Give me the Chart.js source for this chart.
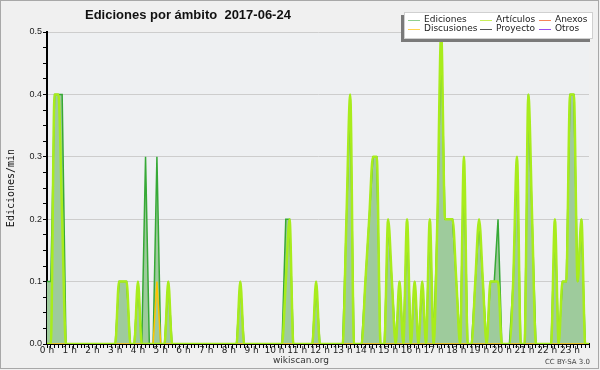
<!DOCTYPE html>
<html lang="es">
<head>
<meta charset="UTF-8">
<title>Ediciones por ámbito 2017-06-24</title>
<script src="https://cdn.jsdelivr.net/npm/chart.js"></script>
<style>
  html, body { margin: 0; padding: 0; background: #f0f0f0; }
</style>
</head>
<body>
<canvas id="grafico" width="600" height="370"></canvas>
<script>
// ediciones por minuto, un valor cada 10 minutos (una fila por hora)
const ediciones = [
  0.1, 0.1, 0.4, 0.4, 0.4, 0,
  0, 0, 0, 0, 0, 0,
  0, 0, 0, 0, 0, 0,
  0, 0.1, 0.1, 0.1, 0, 0,
  0.1, 0, 0.3, 0, 0, 0.3,
  0, 0, 0.1, 0, 0, 0,
  0, 0, 0, 0, 0, 0,
  0, 0, 0, 0, 0, 0,
  0, 0, 0, 0.1, 0, 0,
  0, 0, 0, 0, 0, 0,
  0, 0, 0, 0.2, 0.2, 0,
  0, 0, 0, 0, 0, 0.1,
  0, 0, 0, 0, 0, 0,
  0, 0.2, 0.4, 0, 0, 0,
  0.1, 0.2, 0.3, 0.3, 0, 0,
  0.2, 0.1, 0, 0.1, 0, 0.2,
  0, 0.1, 0, 0.1, 0, 0.2,
  0, 0.2, 0.5, 0.2, 0.2, 0.2,
  0.1, 0, 0.3, 0, 0, 0.1,
  0.2, 0.1, 0, 0.1, 0.1, 0.2,
  0, 0, 0, 0.1, 0.3, 0,
  0, 0.4, 0.2, 0, 0, 0,
  0, 0, 0.2, 0, 0.1, 0.1,
  0.4, 0.4, 0.1, 0.2, 0, 0
];
const articulos = [
  0, 0, 0.4, 0.4, 0.2, 0,
  0, 0, 0, 0, 0, 0,
  0, 0, 0, 0, 0, 0,
  0, 0.1, 0.1, 0.1, 0, 0,
  0.1, 0, 0, 0, 0, 0,
  0, 0, 0.1, 0, 0, 0,
  0, 0, 0, 0, 0, 0,
  0, 0, 0, 0, 0, 0,
  0, 0, 0, 0.1, 0, 0,
  0, 0, 0, 0, 0, 0,
  0, 0, 0, 0.1, 0.2, 0,
  0, 0, 0, 0, 0, 0.1,
  0, 0, 0, 0, 0, 0,
  0, 0.2, 0.4, 0, 0, 0,
  0.1, 0.2, 0.3, 0.3, 0, 0,
  0.2, 0.1, 0, 0.1, 0, 0.2,
  0, 0.1, 0, 0.1, 0, 0.2,
  0, 0.2, 0.5, 0.2, 0.2, 0.2,
  0.1, 0, 0.3, 0, 0, 0.1,
  0.2, 0.1, 0, 0.1, 0.1, 0.1,
  0, 0, 0, 0.1, 0.3, 0,
  0, 0.4, 0.2, 0, 0, 0,
  0, 0, 0.2, 0, 0.1, 0.1,
  0.4, 0.4, 0.1, 0.2, 0, 0
];
const discusiones = [
  0, 0, 0, 0, 0, 0,
  0, 0, 0, 0, 0, 0,
  0, 0, 0, 0, 0, 0,
  0, 0, 0, 0, 0, 0,
  0, 0, 0, 0, 0, 0.1,
  0, 0, 0, 0, 0, 0,
  0, 0, 0, 0, 0, 0,
  0, 0, 0, 0, 0, 0,
  0, 0, 0, 0, 0, 0,
  0, 0, 0, 0, 0, 0,
  0, 0, 0, 0, 0, 0,
  0, 0, 0, 0, 0, 0,
  0, 0, 0, 0, 0, 0,
  0, 0, 0, 0, 0, 0,
  0, 0, 0, 0, 0, 0,
  0, 0, 0, 0, 0, 0,
  0, 0, 0, 0, 0, 0,
  0, 0, 0, 0, 0, 0,
  0, 0, 0, 0, 0, 0,
  0, 0, 0, 0, 0, 0,
  0, 0, 0, 0, 0, 0,
  0, 0, 0, 0, 0, 0,
  0, 0, 0, 0, 0, 0,
  0, 0, 0, 0, 0, 0
];
// sin ediciones visibles
const proyecto = [];
const anexos = [];
const otros = [];

const horas = ['0 h', '1 h', '2 h', '3 h', '4 h', '5 h', '6 h', '7 h', '8 h', '9 h', '10 h', '11 h',
  '12 h', '13 h', '14 h', '15 h', '16 h', '17 h', '18 h', '19 h', '20 h', '21 h', '22 h', '23 h'];
const valoresY = [0, 0.1, 0.2, 0.3, 0.4, 0.5];

// etiquetas de cada intervalo de 10 min
const intervalos = ediciones.map((_, i) => Math.floor(i / 6) + ':' + (i % 6) + '0');

const esMayor = v => Math.abs(v * 10 - Math.round(v * 10)) < 1e-6;

// leyenda en 3 columnas x 2 filas, como en la imagen
const leyenda = [
  { texto: 'Ediciones', color: '#8fcf8f', col: 0, fila: 0 },
  { texto: 'Discusiones', color: '#ffd34d', col: 0, fila: 1 },
  { texto: 'Artículos', color: '#c9ef5a', col: 1, fila: 0 },
  { texto: 'Proyecto', color: '#555555', col: 1, fila: 1 },
  { texto: 'Anexos', color: '#f5855a', col: 2, fila: 0 },
  { texto: 'Otros', color: '#9a4ef0', col: 2, fila: 1 }
];

const decorado = {
  id: 'decorado',
  beforeDraw(chart) {
    const { ctx, chartArea: a } = chart;
    ctx.save();
    ctx.fillStyle = '#f0f0f0';
    ctx.fillRect(0, 0, chart.width, chart.height);
    ctx.fillStyle = '#eef0f2';
    ctx.fillRect(a.left, a.top, a.right - a.left, a.bottom - a.top);
    ctx.restore();
  },
  afterDraw(chart) {
    const ctx = chart.ctx;
    ctx.save();
    // marco
    ctx.strokeStyle = '#a8a8a8';
    ctx.lineWidth = 1;
    ctx.strokeRect(0.5, 0.5, 598, 368);

    // título
    ctx.fillStyle = '#111';
    ctx.font = 'bold 13px "Liberation Sans"';
    ctx.textAlign = 'left';
    ctx.textBaseline = 'middle';
    ctx.fillText('Ediciones por ámbito  2017-06-24', 85, 15);

    // título eje y
    ctx.save();
    ctx.translate(11, 188);
    ctx.rotate(-Math.PI / 2);
    ctx.textAlign = 'center';
    ctx.font = '10px "DejaVu Sans Mono"';
    ctx.fillStyle = '#111';
    ctx.fillText('Ediciones/min', 0, 0);
    ctx.restore();

    // pie
    ctx.textAlign = 'center';
    ctx.font = '9px "DejaVu Sans"';
    ctx.fillStyle = '#333';
    ctx.fillText('wikiscan.org', 301, 361);
    ctx.textAlign = 'right';
    ctx.font = '7px "DejaVu Sans"';
    ctx.fillStyle = '#444';
    ctx.fillText('CC BY-SA 3.0', 590, 362);

    // leyenda
    ctx.fillStyle = '#7a7a7a';
    ctx.fillRect(401, 15, 189, 27);
    ctx.fillStyle = '#ffffff';
    ctx.fillRect(404, 12, 189, 27);
    ctx.strokeStyle = '#d0d0d0';
    ctx.strokeRect(404.5, 12.5, 188, 26);
    const colX = [408, 480, 539];
    const filaY = [19.5, 29];
    ctx.font = '9px "DejaVu Sans"';
    ctx.textAlign = 'left';
    ctx.textBaseline = 'middle';
    leyenda.forEach(l => {
      const x = colX[l.col], y = filaY[l.fila];
      ctx.strokeStyle = l.color;
      ctx.lineWidth = 1;
      ctx.beginPath();
      ctx.moveTo(x, Math.round(y) + 0.5);
      ctx.lineTo(x + 12, Math.round(y) + 0.5);
      ctx.stroke();
      ctx.fillStyle = '#222';
      ctx.fillText(l.texto, x + 16, y);
    });
    ctx.restore();
  }
};

new Chart(document.getElementById('grafico'), {
  type: 'line',
  data: {
    labels: intervalos,
    datasets: [
      { label: 'Artículos', data: articulos, borderColor: '#a8ec1c', borderWidth: 2.5,
        backgroundColor: '#9ecb9c', fill: 'origin', cubicInterpolationMode: 'monotone', order: 0 },
      { label: 'Discusiones', data: discusiones, borderColor: '#ffc400', borderWidth: 1.5, fill: false, order: 1 },
      { label: 'Ediciones', data: ediciones, borderColor: '#36a936', borderWidth: 1.5,
        backgroundColor: '#9ecb9c', fill: 'origin', order: 2 },
      { label: 'Proyecto', data: proyecto, borderColor: '#555555', fill: false, order: 3 },
      { label: 'Anexos', data: anexos, borderColor: '#f5855a', fill: false, order: 4 },
      { label: 'Otros', data: otros, borderColor: '#9a4ef0', fill: false, order: 5 }
    ]
  },
  options: {
    responsive: false,
    animation: false,
    layout: { padding: { left: 0, right: 11, top: 32, bottom: 0 } },
    elements: { point: { radius: 0 }, line: { tension: 0 } },
    plugins: {
      legend: { display: false },
      tooltip: { enabled: false },
      filler: { drawTime: 'beforeDatasetsDraw' }
    },
    scales: {
      x: {
        type: 'category',
        offset: false,
        z: 1,
        grid: { drawOnChartArea: false, drawTicks: true, tickLength: 4, tickColor: '#000', tickWidth: 1 },
        border: { display: true, color: '#000', width: 2 },
        ticks: {
          autoSkip: false, maxRotation: 0, minRotation: 0, padding: -2, color: '#222',
          font: { family: 'DejaVu Sans', size: 9, lineHeight: 1 },
          callback: (v, i) => (i % 6 === 0 ? horas[i / 6] : '')
        },
        afterFit: s => { s.height = 26; }
      },
      y: {
        min: valoresY[0],
        max: valoresY[valoresY.length - 1],
        grid: {
          color: c => (esMayor(c.tick.value) ? '#cdcdcd' : 'rgba(0,0,0,0)'),
          tickColor: '#000', tickLength: 4, drawTicks: true
        },
        border: { display: true, color: '#000', width: 2 },
        ticks: {
          stepSize: 0.025, autoSkip: false, padding: 1, color: '#222',
          font: { family: 'Liberation Sans', size: 9 },
          callback: v => (esMayor(v) ? v.toFixed(1) : '')
        },
        afterFit: s => { s.width = 47; }
      }
    }
  },
  plugins: [decorado]
});
</script>
</body>
</html>
